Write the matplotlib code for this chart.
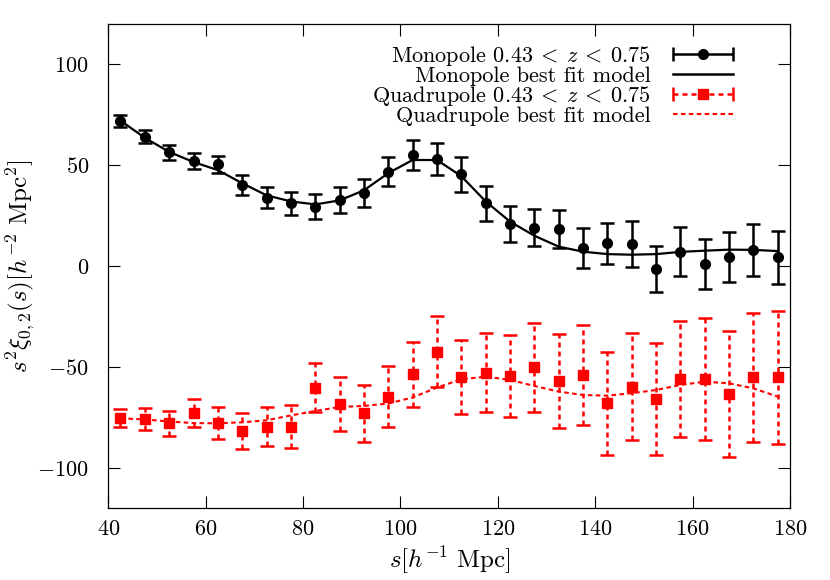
import numpy as np
import matplotlib
matplotlib.use('Agg')
import matplotlib.pyplot as plt
from matplotlib.container import ErrorbarContainer
from matplotlib.legend_handler import HandlerErrorbar

plt.rcParams['font.family'] = 'cmr10'
plt.rcParams['mathtext.fontset'] = 'cm'
plt.rcParams['axes.formatter.use_mathtext'] = True

# bin centres
s = [42.5, 47.5, 52.5, 57.5, 62.5, 67.5, 72.5, 77.5, 82.5, 87.5,
     92.5, 97.5, 102.5, 107.5, 112.5, 117.5, 122.5, 127.5, 132.5, 137.5,
     142.5, 147.5, 152.5, 157.5, 162.5, 167.5, 172.5, 177.5]

# monopole measurement
mono = [72, 64, 56.3, 52.1, 50.3, 40.1, 33.8, 31, 29.4, 32.7,
        36, 46.7, 55, 53, 45.4, 31, 20.8, 19, 18.2, 8.7,
        11.2, 10.9, -1.6, 7.1, 1, 4.3, 7.9, 4.3]
mono_err = [3, 3.3, 3.7, 4.1, 4.4, 5, 5.2, 5.8, 6.1, 6.6,
            6.9, 7.3, 7.6, 8, 8.5, 8.7, 9.1, 9.3, 9.5, 9.9,
            10.3, 11.3, 11.5, 12, 12.2, 12.3, 12.8, 13.2]

# quadrupole measurement
quad = [-75.4, -75.9, -77.9, -72.9, -77.9, -81.7, -79.5, -79.5, -60.2, -68.3,
        -72.9, -64.7, -53.6, -42.5, -54.8, -52.8, -54.5, -50.2, -56.9, -54,
        -68, -59.7, -66, -56.1, -56.1, -63.4, -55.1, -55.1]
quad_err = [4.5, 5.5, 6.2, 7, 8, 9, 9.7, 10.8, 12, 13.2,
            14.2, 15, 16.2, 17.5, 18.3, 19.4, 20.4, 22, 23.2, 24.6,
            25.5, 26.5, 27.7, 28.7, 30.2, 31, 32, 33]

# best fit models
mono_model = [72, 63.5, 56.5, 51.5, 47.5, 41, 35, 32, 30.5, 32.5,
              37.5, 46, 52.5, 52.5, 44.5, 32, 22, 15, 9.6, 7.1,
              5.9, 5.6, 5.9, 7, 7.6, 8.1, 8, 7.4]
quad_model = [-75.4, -76, -77, -77.8, -77.9, -77.4, -76.4, -74, -71.8, -69.8,
              -69.3, -68.1, -65.1, -60.2, -56.1, -54.8, -56.4, -59.4, -62.2, -63.9,
              -64.2, -63, -61.4, -58.9, -57.3, -58.1, -60.6, -64.7]

dots = (0, (2, 1.6))

fig = plt.figure(figsize=(8.3, 5.8), dpi=100)
ax = fig.add_axes([0.1305, 0.1236, 0.8213, 0.8355])

ax.errorbar(s, mono, yerr=mono_err, fmt='o', color='k', ms=7,
            elinewidth=1.8, capsize=5, capthick=1.8, zorder=3)
ax.plot(s, mono_model, '-', color='k', lw=1.6, zorder=4)

eq = ax.errorbar(s, quad, yerr=quad_err, fmt='s', color='red', ms=6.5,
                 elinewidth=1.8, capsize=5, capthick=1.8, zorder=3)
eq[2][0].set_linestyle(dots)
ax.plot(s, quad_model, color='red', lw=1.5, ls=(0, (2.2, 1.6)), zorder=4)

# proxies for gnuplot-like legend keys (horizontal bar with caps)
pm = ax.errorbar([np.nan], [np.nan], xerr=[1], fmt='o', color='k', ms=7,
                 elinewidth=1.8, capsize=5, capthick=1.8)
pq = ax.errorbar([np.nan], [np.nan], xerr=[1], fmt='s', color='red', ms=6.5,
                 elinewidth=1.8, capsize=5, capthick=1.8)
pq[2][0].set_linestyle(dots)
lm, = ax.plot([], [], '-', color='k', lw=1.8)
lq, = ax.plot([], [], color='red', lw=1.5, ls=(0, (2.2, 1.6)))

ax.legend([pm, lm, pq, lq],
          [r'Monopole $0.43\:<\:z\:<\:0.75$', 'Monopole best fit model',
           r'Quadrupole $0.43\:<\:z\:<\:0.75$', 'Quadrupole best fit model'],
          handler_map={ErrorbarContainer: HandlerErrorbar(xerr_size=1.35)},
          loc='upper right', bbox_to_anchor=(0.916, 0.958), frameon=False,
          markerfirst=False, numpoints=1, handlelength=2.7, handletextpad=1.0,
          labelspacing=-0.08, borderpad=0, borderaxespad=0, fontsize=16)

ax.set_xlim(40, 180)
ax.set_ylim(-120, 120)
ax.set_xticks(np.arange(40, 181, 20))
ax.set_yticks([-100, -50, 0, 50, 100])
ax.tick_params(direction='in', top=True, right=True, length=8.6, width=0.8,
               labelsize=16)
ax.tick_params(axis='x', pad=8)
ax.tick_params(axis='y', pad=14)
for sp in ax.spines.values():
    sp.set_linewidth(0.9)

ax.set_xlabel(r'$s[h^{-1}\ \mathrm{Mpc}]$', fontsize=18, labelpad=4)
ax.set_ylabel(r'$s^2\xi_{0,2}(s)[h^{-2}\ \mathrm{Mpc}^2]$', fontsize=18)
ax.yaxis.set_label_coords(-0.103, 0.5)

fig.savefig('out.png', dpi=100)
